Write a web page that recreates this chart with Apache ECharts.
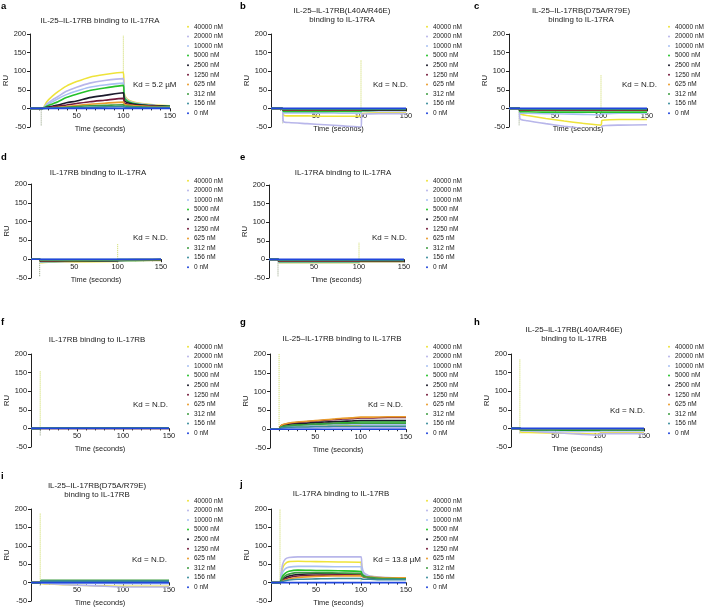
<!DOCTYPE html>
<html>
<head>
<meta charset="utf-8">
<title>IL-17 receptor binding sensorgrams</title>
<script src="https://cdn.jsdelivr.net/npm/echarts@6/dist/echarts.min.js"></script>
<style>
html, body { margin: 0; padding: 0; background: #fff; }
#main { width: 704px; height: 608px; }
</style>
</head>
<body>
<div id="main"></div>
<script>
// concentrations, same order in every panel
const concs = ['40000 nM', '20000 nM', '10000 nM', '5000 nM', '2500 nM', '1250 nM', '625 nM', '312 nM', '156 nM', '0 nM'];
const colors = ['#eee33a', '#b8b6ea', '#a9c0f2', '#25c12a', '#1b1b2c', '#741a3c', '#e99b2c', '#3c9c40', '#3a8c9c', '#2146dc'];

// a
const tA = [0, 13, 18, 24, 30, 39, 50, 64, 80, 100, 101, 104, 110, 120, 135, 150];
const ruA = [
  [0, 0, 18, 33, 45, 60, 72, 84, 91, 97, 40, 25, 18, 13, 9, 7],
  [0, 0, 12, 23, 32, 46, 57, 68, 75, 80, 35, 23, 16, 12, 8, 6],
  [0, 0, 9, 18, 26, 37, 47, 57, 63, 68, 32, 21, 15, 11, 8, 6],
  [0, 0, 6, 12, 18, 29, 38, 48, 55, 62, 30, 20, 14, 10, 7, 6],
  [0, 0, 3, 6, 9, 15, 20, 29, 35, 42, 22, 16, 12, 9, 7, 5],
  [0, 0, 2, 4, 6, 9, 13, 18, 22, 27, 15, 12, 9, 7, 5, 4],
  [0, 0, 1, 2, 3, 5, 8, 11, 14, 17, 11, 9, 8, 6, 5, 4],
  [0, 0, 0.5, 1, 2, 3, 5, 7, 8, 10, 7, 6, 5, 4, 3, 3],
  [0, 0, 0, 0.5, 1, 1.5, 2, 3, 4, 5, 4, 3, 3, 2, 2, 2],
  [0, 0, 0, 0, 0, 0, 0, 0, 0, 0, 0, 0, 0, 0, 0, 0]
];
const spikeA = [[100, 195], [12, -48]];

// b
const tB = [0, 12, 14, 20, 40, 60, 80, 100, 101, 105, 120, 150];
const ruB = [
  [0, 0, -18, -20, -20, -21, -21, -21, -14, -13, -12, -12],
  [0, 0, -36, -38, -41, -44, -47, -50, -16, -15, -14, -14],
  [0, 0, -12, -12, -12, -12, -13, -13, -8, -8, -7, -7],
  [0, 0, -8, -8, -8, -8, -8, -8, -6, -6, -5, -5],
  [0, 0, -5, -5, -5, -5, -5, -5, -4, -4, -4, -4],
  [0, 0, -4, -4, -4, -4, -4, -4, -3, -3, -3, -3],
  [0, 0, -3, -3, -3, -3, -3, -3, -2, -2, -2, -2],
  [0, 0, -2, -2, -2, -2, -2, -2, -2, -2, -2, -2],
  [0, 0, -1, -1, -1, -1, -1, -1, -1, -1, -1, -1],
  [0, 0, 0, 0, 0, 0, 0, 0, 0, 0, 0, 0]
];
const spikeB = [[100, 130], [13, -40]];

// c
const tC = [0, 11, 12, 20, 40, 60, 80, 100, 101, 105, 120, 150];
const ruC = [
  [0, 0, -15, -19, -27, -34, -40, -45, -32, -31, -30, -30],
  [0, 0, -28, -33, -41, -48, -54, -60, -48, -46, -45, -44],
  [0, 0, -12, -13, -14, -15, -16, -17, -14, -14, -13, -13],
  [0, 0, -9, -9, -10, -10, -10, -10, -10, -10, -10, -10],
  [0, 0, -5, -5, -5, -5, -5, -5, -5, -5, -5, -5],
  [0, 0, -4, -4, -4, -4, -4, -4, -4, -4, -4, -4],
  [0, 0, -3, -3, -3, -3, -3, -3, -3, -3, -3, -3],
  [0, 0, -2, -2, -2, -2, -2, -2, -2, -2, -2, -2],
  [0, 0, -1, -1, -1, -1, -1, -1, -1, -1, -1, -1],
  [0, 0, 0, 0, 0, 0, 0, 0, 0, 0, 0, 0]
];
const spikeC = [[100, 90], [11, -45]];

// d
const tD = [0, 10, 11, 20, 50, 100, 101, 120, 150];
const ruD = [
  [0, 0, -9, -8, -7, -6, -5, -4, -3],
  [0, 0, -8, -7, -6, -5, -4, -3, -3],
  [0, 0, -7, -6, -5, -5, -4, -3, -2],
  [0, 0, -6, -6, -5, -4, -3, -3, -2],
  [0, 0, -5, -5, -4, -4, -3, -2, -2],
  [0, 0, -4, -4, -3, -3, -2, -2, -1],
  [0, 0, -3, -3, -3, -2, -2, -1, -1],
  [0, 0, -2, -2, -2, -2, -1, -1, -1],
  [0, 0, -1, -1, -1, -1, -1, -1, 0],
  [0, 0, 0, 0, 0, 0, 0, 0, 0]
];
const spikeD = [[100, 40], [10, -48]];

// e
const tE = [0, 10, 11, 30, 60, 100, 101, 120, 150];
const ruE = [
  [0, 0, -9, -9, -9, -9, -7, -7, -7],
  [0, 0, -8, -8, -8, -8, -6, -6, -6],
  [0, 0, -7, -7, -7, -7, -5, -5, -5],
  [0, 0, -6, -6, -6, -6, -5, -5, -5],
  [0, 0, -5, -5, -5, -5, -4, -4, -4],
  [0, 0, -4, -4, -4, -4, -3, -3, -3],
  [0, 0, -3, -3, -3, -3, -3, -3, -3],
  [0, 0, -2, -2, -2, -2, -2, -2, -2],
  [0, 0, -1, -1, -1, -1, -1, -1, -1],
  [0, 0, 0, 0, 0, 0, 0, 0, 0]
];
const spikeE = [[100, 45], [10, -45]];

// f
const tF = [0, 10, 11, 50, 100, 150];
const ruF = [
  [0, 0, 1, 1, 1, 1],
  [0, 0, 0.5, 0.5, 0.5, 0.5],
  [0, 0, 0.5, 0.5, 0.5, 0.5],
  [0, 0, 1, 1, 1, 1],
  [0, 0, 0.5, 0.5, 0.5, 0.5],
  [0, 0, 0, 0, 0, 0],
  [0, 0, 0, 0, 0, 0],
  [0, 0, 1, 1, 1, 1],
  [0, 0, 0.5, 0.5, 0.5, 0.5],
  [0, 0, 0, 0, 0, 0]
];
const spikeF = [[10, 155], [10, -20]];

// g
const tG = [0, 10, 12, 15, 20, 30, 40, 50, 60, 70, 80, 90, 100, 101, 110, 130, 150];
const ruG = [
  [0, 0, 4, 6, 7, 8, 8, 9, 9, 9, 10, 10, 10, 8, 8, 8, 8],
  [0, 0, 2, 3, 3, 4, 4, 4, 5, 5, 5, 5, 5, 4, 4, 4, 4],
  [0, 0, 5, 7, 8, 9, 10, 11, 12, 12, 13, 13, 13, 12, 12, 12, 12],
  [0, 0, 7, 9, 10, 12, 13, 14, 15, 16, 17, 18, 19, 19, 19, 19, 19],
  [0, 0, 8, 11, 13, 15, 16, 18, 19, 20, 21, 22, 23, 23, 23, 23, 23],
  [0, 0, 9, 12, 15, 18, 20, 22, 24, 25, 27, 28, 30, 30, 30, 31, 31],
  [0, 0, 9, 13, 16, 19, 21, 23, 25, 27, 29, 30, 32, 32, 32, 33, 33],
  [0, 0, 6, 8, 9, 11, 12, 13, 14, 15, 15, 16, 16, 16, 16, 16, 16],
  [0, 0, 3, 4, 5, 6, 6, 7, 7, 8, 8, 8, 8, 8, 8, 8, 8],
  [0, 0, 0, 0, 0, 0, 0, 0, 0, 0, 0, 0, 0, 0, 0, 0, 0]
];
const spikeG = [[10, 200], [10, -5]];

// h
const tH = [0, 10, 11, 20, 40, 60, 80, 100, 101, 120, 150];
const ruH = [
  [0, 0, -10, -11, -12, -13, -14, -15, -12, -12, -12],
  [0, 0, -5, -7, -10, -13, -16, -18, -14, -14, -14],
  [0, 0, -6, -6, -7, -7, -8, -8, -7, -7, -7],
  [0, 0, -4, -4, -4, -5, -5, -5, -4, -4, -4],
  [0, 0, -3, -3, -3, -3, -3, -3, -3, -3, -3],
  [0, 0, -2, -2, -2, -2, -2, -2, -2, -2, -2],
  [0, 0, -2, -2, -2, -2, -2, -2, -2, -2, -2],
  [0, 0, -1, -1, -1, -1, -1, -1, -1, -1, -1],
  [0, 0, -1, -1, -1, -1, -1, -1, -1, -1, -1],
  [0, 0, 0, 0, 0, 0, 0, 0, 0, 0, 0]
];
const spikeH = [[10, 185], [10, -15]];

// i
const tI = [0, 10, 11, 20, 40, 60, 80, 100, 101, 120, 150];
const ruI = [
  [0, 0, -2, -4, -6, -8, -9, -10, -10, -10, -10],
  [0, 0, -1, -3, -6, -8, -10, -12, -12, -12, -12],
  [0, 0, -1, -1, -2, -2, -2, -3, -3, -3, -3],
  [0, 0, 5, 5, 5, 5, 5, 5, 5, 5, 5],
  [0, 0, 3, 3, 3, 3, 3, 3, 3, 3, 3],
  [0, 0, 2, 2, 2, 2, 2, 2, 2, 2, 2],
  [0, 0, 1, 1, 1, 1, 1, 1, 1, 1, 1],
  [0, 0, 6, 6, 6, 6, 6, 6, 6, 6, 6],
  [0, 0, 4, 4, 4, 4, 4, 4, 4, 4, 4],
  [0, 0, 0, 0, 0, 0, 0, 0, 0, 0, 0]
];
const spikeI = [[10, 190], [10, -10]];

// j
const tJ = [0, 10, 11, 13, 16, 20, 30, 50, 75, 100, 101, 103, 106, 110, 120, 135, 150];
const ruJ = [
  [0, 0, 15, 40, 52, 57, 58, 57, 56, 55, 38, 25, 20, 17, 14, 12, 11],
  [0, 0, 20, 50, 64, 68, 70, 70, 70, 70, 45, 28, 22, 18, 15, 13, 12],
  [0, 0, 10, 28, 38, 42, 44, 44, 43, 43, 30, 22, 18, 16, 14, 12, 11],
  [0, 0, 6, 18, 26, 31, 34, 33, 32, 30, 24, 19, 16, 14, 13, 12, 11],
  [0, 0, 3, 9, 14, 18, 22, 24, 24, 22, 19, 16, 14, 13, 12, 11, 10],
  [0, 0, 2, 6, 10, 14, 18, 20, 21, 21, 18, 16, 15, 14, 13, 12, 11],
  [0, 0, 1, 4, 7, 10, 14, 17, 18, 19, 17, 16, 15, 15, 14, 13, 13],
  [0, 0, 4, 12, 19, 23, 27, 27, 26, 25, 20, 17, 15, 14, 12, 11, 10],
  [0, 0, 1, 3, 5, 7, 9, 10, 11, 11, 10, 9, 9, 9, 8, 8, 8],
  [0, 0, 0, 0, 0, 0, 0, 0, 0, 0, 0, 0, 0, 0, 0, 0, 0]
];
const spikeJ = [[10, 200], [100, 60]];

const FONT = 'Liberation Sans, Arial, Helvetica, sans-serif';
const INK = '#1a1a1a';
const Y_MIN = -50, Y_MAX = 200;

// box: left, top, width, height of the plot area
const panels = [
  { letter: 'a', title: 'IL-25–IL-17RB binding to IL-17RA', kd: 'Kd = 5.2 µM', t: tA, ru: ruA, spikes: spikeA,
    box: [30, 34, 140, 93], titleAt: [100, 21], kdAt: [133, 85], letterAt: [1, 6], legendAt: [187, 22] },
  { letter: 'b', title: 'IL-25–IL-17RB(L40A/R46E)\nbinding to IL-17RA', kd: 'Kd = N.D.', t: tB, ru: ruB, spikes: spikeB,
    box: [271, 34, 135, 93], titleAt: [342, 15.5], kdAt: [373, 85], letterAt: [240, 6], legendAt: [426, 22] },
  { letter: 'c', title: 'IL-25–IL-17RB(D75A/R79E)\nbinding to IL-17RA', kd: 'Kd = N.D.', t: tC, ru: ruC, spikes: spikeC,
    box: [509, 34, 138, 93], titleAt: [581, 15.5], kdAt: [622, 85], letterAt: [474, 6], legendAt: [668, 22] },
  { letter: 'd', title: 'IL-17RB binding to IL-17RA', kd: 'Kd = N.D.', t: tD, ru: ruD, spikes: spikeD,
    box: [31, 184, 130, 94], titleAt: [98, 173], kdAt: [133, 238], letterAt: [1, 157], legendAt: [187, 176] },
  { letter: 'e', title: 'IL-17RA binding to IL-17RA', kd: 'Kd = N.D.', t: tE, ru: ruE, spikes: spikeE,
    box: [269, 185, 135, 93], titleAt: [343, 173], kdAt: [372, 238], letterAt: [240, 157], legendAt: [426, 176] },
  { letter: 'f', title: 'IL-17RB binding to IL-17RB', kd: 'Kd = N.D.', t: tF, ru: ruF, spikes: spikeF,
    box: [31, 354, 138, 93], titleAt: [97, 340], kdAt: [133, 405], letterAt: [1, 322], legendAt: [187, 342] },
  { letter: 'g', title: 'IL-25–IL-17RB binding to IL-17RB', kd: 'Kd = N.D.', t: tG, ru: ruG, spikes: spikeG,
    box: [270, 354, 136, 94], titleAt: [342, 339], kdAt: [368, 405], letterAt: [240, 322], legendAt: [426, 342] },
  { letter: 'h', title: 'IL-25–IL-17RB(L40A/R46E)\nbinding to IL-17RB', kd: 'Kd = N.D.', t: tH, ru: ruH, spikes: spikeH,
    box: [511, 354, 133, 93], titleAt: [574, 334], kdAt: [610, 411], letterAt: [474, 322], legendAt: [668, 342] },
  { letter: 'i', title: 'IL-25–IL-17RB(D75A/R79E)\nbinding to IL-17RB', kd: 'Kd = N.D.', t: tI, ru: ruI, spikes: spikeI,
    box: [31, 509, 138, 92], titleAt: [97, 490.5], kdAt: [132, 560], letterAt: [1, 476], legendAt: [187, 496] },
  { letter: 'j', title: 'IL-17RA binding to IL-17RB', kd: 'Kd = 13.8 µM', t: tJ, ru: ruJ, spikes: spikeJ,
    box: [271, 509, 135, 92], titleAt: [341, 494], kdAt: [373, 560], letterAt: [240, 484], legendAt: [426, 496] }
];

const chart = echarts.init(document.getElementById('main'), null, { renderer: 'canvas' });

const option = {
  animation: false,
  backgroundColor: '#fff',
  grid: [],
  xAxis: [],
  yAxis: [],
  legend: [],
  series: [],
  graphic: []
};

panels.forEach((p, i) => {
  option.grid.push({ left: p.box[0], top: p.box[1], width: p.box[2], height: p.box[3] });

  // x axis sits on RU = 0: shift it up from the grid bottom
  const zeroShift = -p.box[3] * (0 - Y_MIN) / (Y_MAX - Y_MIN);

  option.xAxis.push({
    type: 'value', gridIndex: i, min: 0, max: 150, interval: 50,
    offset: zeroShift,
    name: 'Time (seconds)', nameLocation: 'middle', nameGap: 17,
    nameTextStyle: { fontSize: 7.4, fontFamily: FONT, color: INK },
    axisLine: { onZero: false, lineStyle: { color: '#222', width: 1 } },
    axisTick: { length: 3, lineStyle: { color: '#222' } },
    minorTick: { show: true, splitNumber: 5, length: 2, lineStyle: { color: '#222' } },
    axisLabel: { showMinLabel: false, fontSize: 7.4, fontFamily: FONT, color: INK, margin: 4 },
    splitLine: { show: false }
  });

  option.yAxis.push({
    type: 'value', gridIndex: i, min: Y_MIN, max: Y_MAX, interval: 50,
    name: 'RU', nameLocation: 'middle', nameGap: 19, nameRotate: 90,
    nameTextStyle: { fontSize: 7.6, fontFamily: FONT, color: INK },
    axisLine: { show: true, onZero: false, lineStyle: { color: '#222', width: 1 } },
    axisTick: { show: true, length: 3, lineStyle: { color: '#222' } },
    axisLabel: { fontSize: 7.4, fontFamily: FONT, color: INK, margin: 4 },
    splitLine: { show: false }
  });

  option.legend.push({
    data: concs, orient: 'vertical', left: p.legendAt[0], top: p.legendAt[1], padding: 0,
    icon: 'circle', itemWidth: 2, itemHeight: 2, itemGap: 0, itemTextGap: 4,
    selectedMode: false,
    textStyle: { fontSize: 6.5, fontFamily: FONT, color: INK, lineHeight: 9.6 }
  });

  // injection / wash artefacts, dotted spikes
  p.spikes.forEach(s => {
    option.series.push({
      type: 'line', xAxisIndex: i, yAxisIndex: i, silent: true,
      data: [[s[0], 0], [s[0], s[1]]], showSymbol: false,
      lineStyle: { width: 1, type: 'dotted', color: s[1] > 0 ? '#c9d85a' : '#8a9a7a' },
      z: 1
    });
  });

  p.ru.forEach((vals, k) => {
    option.series.push({
      type: 'line', name: concs[k], xAxisIndex: i, yAxisIndex: i,
      data: p.t.map((t, j) => [t, vals[j]]),
      showSymbol: false, smooth: 0.25,
      lineStyle: { width: 1.6, color: colors[k] },
      itemStyle: { color: colors[k] },
      z: 2
    });
  });

  option.graphic.push(
    { type: 'text', x: p.letterAt[0], y: p.letterAt[1], silent: true,
      style: { text: p.letter, fontSize: 9.5, fontWeight: 'bold', fontFamily: FONT, fill: '#000', verticalAlign: 'middle' } },
    { type: 'text', x: p.titleAt[0], y: p.titleAt[1], silent: true,
      style: { text: p.title, fontSize: 7.9, fontFamily: FONT, fill: INK, align: 'center', verticalAlign: 'middle', lineHeight: 9 } },
    { type: 'text', x: p.kdAt[0], y: p.kdAt[1], silent: true,
      style: { text: p.kd, fontSize: 8, fontFamily: FONT, fill: INK, verticalAlign: 'middle' } }
  );
});

chart.setOption(option);
</script>
</body>
</html>
